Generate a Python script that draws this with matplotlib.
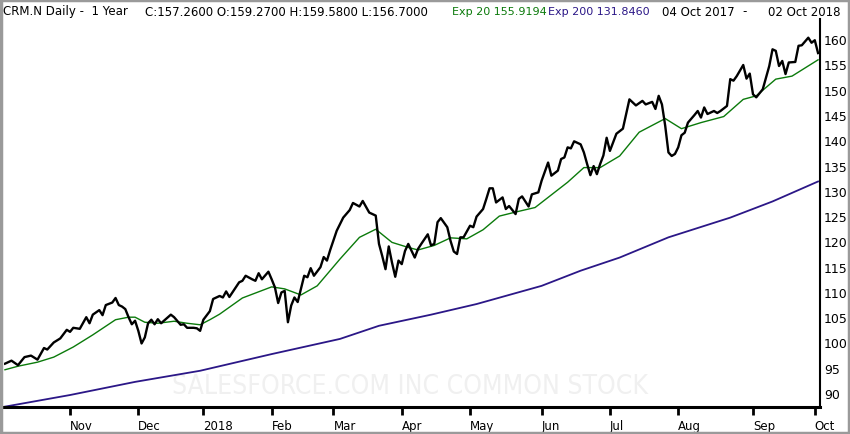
import numpy as np
import pandas as pd
import matplotlib
matplotlib.use("Agg")
import matplotlib.pyplot as plt
from matplotlib.patches import Rectangle

# trading days, 04 Oct 2017 - 02 Oct 2018
holidays = ["2017-11-23", "2017-12-25", "2018-01-01", "2018-01-15", "2018-02-19",
            "2018-03-30", "2018-05-28", "2018-07-04", "2018-09-03"]
days = pd.bdate_range("2017-10-04", "2018-10-02")
days = days[~days.isin(pd.to_datetime(holidays))]

# close (trading day number, price)
close_idx = [0, 2, 4, 6, 8, 10, 12, 13, 15, 17, 19, 20, 21, 23, 25, 26, 27, 29, 30, 31,
             33, 34, 35, 36, 37, 38, 39, 40, 41, 42, 43, 44, 45, 46, 47, 48, 51, 52, 54, 55,
             56, 58, 59, 60, 61, 63, 64, 66, 67, 68, 69, 72, 73, 74, 76, 77, 78, 79, 81, 82,
             83, 84, 85, 86, 87, 88, 89, 90, 91, 92, 93, 94, 95, 97, 98, 99, 100, 102, 104, 106,
             107, 109, 110, 112, 114, 115, 116, 117, 118, 119, 120, 121, 122, 123, 124, 126, 127, 128, 130, 131,
             132, 133, 134, 136, 137, 138, 139, 140, 141, 143, 144, 145, 147, 148, 149, 150, 151, 153, 154, 155,
             157, 158, 159, 161, 162, 164, 165, 167, 168, 170, 171, 172, 173, 174, 175, 177, 178, 179, 180, 181,
             182, 183, 184, 185, 186, 188, 190, 192, 194, 196, 197, 199, 200, 201, 202, 203, 204, 205, 206, 207,
             208, 209, 210, 212, 213, 214, 215, 216, 218, 219, 220, 222, 223, 224, 225, 227, 228, 229, 230, 231,
             233, 234, 235, 236, 237, 238, 239, 240, 241, 243, 244, 245, 247, 248, 249, 250]
close = [95.8, 96.4, 95.5, 97.1, 97.4, 96.6, 98.9, 98.6, 100.0, 100.8, 102.5, 102.1, 102.9, 102.7, 105.0, 103.8, 105.5, 106.4, 105.4, 107.4,
         107.9, 108.8, 107.4, 107.1, 106.6, 105.0, 103.6, 104.3, 102.3, 99.8, 101.0, 103.8, 104.5, 103.6, 104.6, 103.8, 105.5, 105.0, 103.5, 103.6,
         102.9, 102.9, 102.8, 102.3, 104.5, 106.2, 108.6, 109.2, 108.9, 110.1, 109.0, 111.9, 112.2, 113.2, 112.5, 112.2, 113.7, 112.5, 114.0, 112.5,
         110.9, 107.8, 109.9, 110.2, 104.0, 107.3, 108.9, 108.0, 110.6, 113.2, 112.9, 114.7, 113.2, 114.9, 116.9, 116.2, 118.3, 122.1, 124.7, 126.2,
         127.6, 126.9, 128.0, 125.7, 125.1, 119.5, 117.1, 114.5, 119.0, 115.8, 113.0, 116.2, 115.5, 118.1, 119.5, 116.8, 118.5, 119.5, 121.4, 119.2,
         119.5, 123.8, 124.6, 122.8, 120.1, 118.0, 117.5, 120.8, 120.8, 123.1, 122.8, 124.9, 126.4, 128.4, 130.5, 130.5, 127.7, 128.7, 126.4, 127.0,
         125.4, 128.4, 128.9, 126.9, 129.3, 129.7, 132.0, 135.6, 133.0, 134.0, 136.3, 136.6, 138.6, 138.4, 139.8, 139.2, 137.6, 135.3, 133.1, 134.9,
         133.3, 135.3, 137.0, 140.5, 137.9, 141.3, 142.3, 148.1, 146.9, 147.8, 147.1, 147.6, 146.2, 148.8, 147.1, 142.9, 137.6, 136.9, 137.3, 138.6,
         141.0, 141.5, 143.5, 145.0, 145.8, 144.5, 146.5, 145.2, 145.8, 145.4, 145.8, 146.8, 152.1, 151.8, 152.7, 154.9, 152.2, 153.2, 149.1, 148.5,
         150.1, 152.4, 154.7, 158.0, 157.7, 154.7, 155.7, 153.1, 155.4, 155.5, 158.7, 158.8, 160.3, 159.3, 159.8, 157.26]

# Exp 20 (green)
ema20_idx = [0, 4, 10, 15, 21, 27, 34, 38, 40, 43, 47, 52, 56, 60, 63, 66, 73, 82, 86, 91,
             96, 103, 109, 114, 119, 124, 127, 132, 137, 142, 147, 152, 157, 163, 168, 173, 178, 183, 189, 195,
             203, 208, 214, 221, 227, 231, 237, 242, 250]
ema20 = [94.6, 95.3, 96.1, 97.1, 99.1, 101.5, 104.5, 105.0, 105.0, 104.0, 103.8, 104.2, 103.8, 103.5, 104.5, 105.6, 108.8, 111.0, 110.6, 109.4,
         111.2, 116.5, 120.8, 122.4, 119.8, 118.8, 118.3, 119.2, 120.7, 120.5, 122.3, 125.0, 125.8, 126.7, 129.2, 131.7, 134.6, 134.6, 136.9, 141.6,
         144.3, 142.3, 143.5, 144.7, 148.1, 148.8, 152.1, 152.7, 155.92]

# Exp 200 (purple)
ema200_idx = [0, 20, 40, 60, 82, 103, 115, 131, 145, 165, 177, 189, 204, 223, 236, 250]
ema200 = [87.3, 89.6, 92.2, 94.4, 97.7, 100.7, 103.3, 105.5, 107.6, 111.2, 114.2, 116.8, 120.8, 124.7, 127.9, 131.85]

yticks = [90, 95, 100, 105, 110, 115, 120, 125, 130, 135, 140, 145, 150, 155, 160]

GREEN = "#0b7a0b"
PURPLE = "#2b1787"

fig = plt.figure(figsize=(8.5, 4.35), dpi=100)
ax = fig.add_axes([4 / 850, 1 - 408 / 435, 816 / 850, 388 / 435])

ax.plot(ema200_idx, ema200, color=PURPLE, lw=1.3, zorder=2, solid_joinstyle="round")
ax.plot(ema20_idx, ema20, color=GREEN, lw=1.0, zorder=3, solid_joinstyle="round")
ax.plot(close_idx, close, color="black", lw=1.7, zorder=4, solid_joinstyle="round")

ax.set_xlim(-0.3, 250.6)
ax.set_ylim(87.23, 164.0)

# month ticks on first trading day of each month
months = pd.Series(np.arange(len(days)), index=days)
firsts = months.groupby([days.year, days.month]).first().values[1:]
labels = []
for i in firsts:
    d = days[i]
    labels.append("2018" if d.month == 1 else d.strftime("%b"))
ax.set_xticks(firsts)
ax.set_xticklabels(labels, ha="left")
ax.tick_params(axis="x", direction="out", length=6, width=2, labelsize=8.5, pad=3)

ax.yaxis.tick_right()
ax.set_yticks(yticks)
ax.tick_params(axis="y", length=0, labelsize=9, pad=3)

for s in ["left", "top"]:
    ax.spines[s].set_visible(False)
ax.spines["right"].set_linewidth(1.5)
ax.spines["bottom"].set_linewidth(2.2)

# watermark
ax.text(406 / 816, 0.055, "SALESFORCE.COM INC COMMON STOCK",
        transform=ax.transAxes, ha="center", va="center", fontsize=19,
        color="#f0f0f0", zorder=1, fontstretch="condensed")

# header
hy = 1 - 12 / 435
fig.text(3 / 850, hy, "CRM.N Daily -  1 Year", fontsize=8.5, va="center")
fig.text(145 / 850, hy, "C:157.2600 O:159.2700 H:159.5800 L:156.7000", fontsize=8.5, va="center")
fig.text(452 / 850, hy, "Exp 20 155.9194", fontsize=8, va="center", color=GREEN)
fig.text(548 / 850, hy, "Exp 200 131.8460", fontsize=8, va="center", color=PURPLE)
fig.text(662 / 850, hy, "04 Oct 2017", fontsize=8.5, va="center")
fig.text(742 / 850, hy, "-", fontsize=8.5, va="center")
fig.text(768 / 850, hy, "02 Oct 2018", fontsize=8.5, va="center")

# outer frame
fig.patches.append(Rectangle((0.0015, 0.003), 0.997, 0.994, transform=fig.transFigure,
                             fill=False, edgecolor="#9a9a9a", lw=2.5))

fig.savefig("out.png", dpi=100)
